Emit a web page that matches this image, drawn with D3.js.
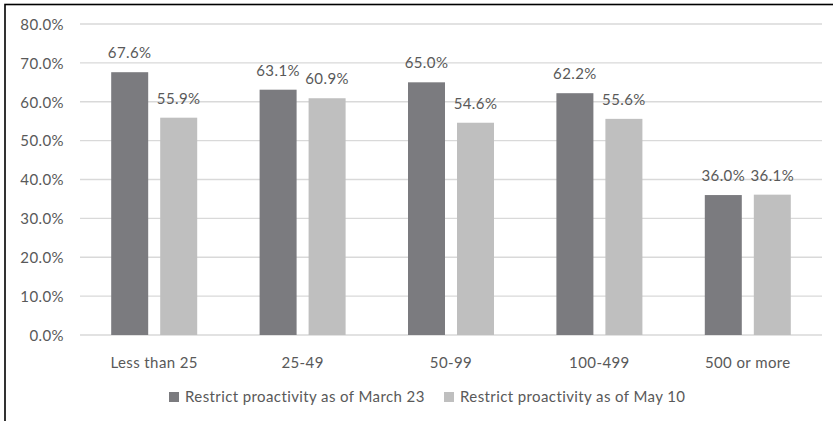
<!DOCTYPE html>
<html><head><meta charset="utf-8">
<script src="https://cdn.jsdelivr.net/npm/d3@7"></script>
<style>
html,body{margin:0;padding:0;background:#fff;overflow:hidden}
text{font-family:Lato,"Open Sans",sans-serif;fill:#595959;letter-spacing:0.4px}
</style></head>
<body><svg id="c" width="833" height="421"></svg>
<script>
const categories = ["Less than 25","25-49","50-99","100-499","500 or more"];
const seriesNames = ["Restrict proactivity as of March 23","Restrict proactivity as of May 10"];
const march23 = [67.6, 63.1, 65.0, 62.2, 36.0];
const may10 = [55.9, 60.9, 54.6, 55.6, 36.1];
const yTicks = [0,10,20,30,40,50,60,70,80];
const colors = ["#7b7b7f","#bfbfbf"];

const svg = d3.select("#c");
const fs = 15;
svg.append("rect").attr("x",5).attr("y",4.5).attr("width",900).attr("height",600)
  .attr("fill","none").attr("stroke","#000").attr("stroke-width",1.6);

const y = d3.scaleLinear().domain([0,80]).range([335,24]);
const x0 = d3.scaleBand().domain(categories).range([80,822]).padding(0);
const x1 = d3.scaleBand().domain([0,1]).range([-43,43]).paddingInner(0.245).paddingOuter(0);

const grid = svg.append("g");
grid.selectAll("line").data(yTicks).join("line")
  .attr("x1",80).attr("x2",822).attr("y1",d=>y(d)).attr("y2",d=>y(d))
  .attr("stroke","#d9d9d9").attr("stroke-width",1.3);

const yAxis = d3.axisLeft(y).tickValues(yTicks).tickFormat(d=>d.toFixed(1)+"%").tickSize(0).tickPadding(0);
const ga = svg.append("g").attr("transform","translate(64,0)").call(yAxis);
ga.select(".domain").remove();
ga.selectAll("text").attr("font-size",fs).style("font-family","Lato").attr("fill","#595959").attr("dy","0.35em");

const data = [march23, may10];
data.forEach((vals,si)=>{
  const g = svg.append("g");
  g.selectAll("rect").data(vals).join("rect")
    .attr("x",(d,i)=>x0(categories[i])+x0.bandwidth()/2+x1(si))
    .attr("width",x1.bandwidth())
    .attr("y",d=>y(d)).attr("height",d=>y(0)-y(d))
    .attr("fill",colors[si]);
  g.selectAll("text").data(vals).join("text")
    .attr("x",(d,i)=>x0(categories[i])+x0.bandwidth()/2+x1(si)+x1.bandwidth()/2)
    .attr("y",d=>y(d)-14)
    .attr("text-anchor","middle").attr("font-size",fs)
    .text(d=>d.toFixed(1)+"%");
});

const xAxis = d3.axisBottom(x0).tickSize(0).tickPadding(0);
const gx = svg.append("g").attr("transform","translate(0,368)").call(xAxis);
gx.select(".domain").remove();
gx.selectAll("text").attr("font-size",fs).style("font-family","Lato").attr("fill","#595959").attr("dy",0).attr("y",0);

const legX = [169, 444];
seriesNames.forEach((n,i)=>{
  svg.append("rect").attr("x",legX[i]).attr("y",392).attr("width",10).attr("height",10).attr("fill",colors[i]);
  svg.append("text").attr("x",legX[i]+16).attr("y",401.5).attr("font-size",fs).text(n);
});
</script></body></html>
